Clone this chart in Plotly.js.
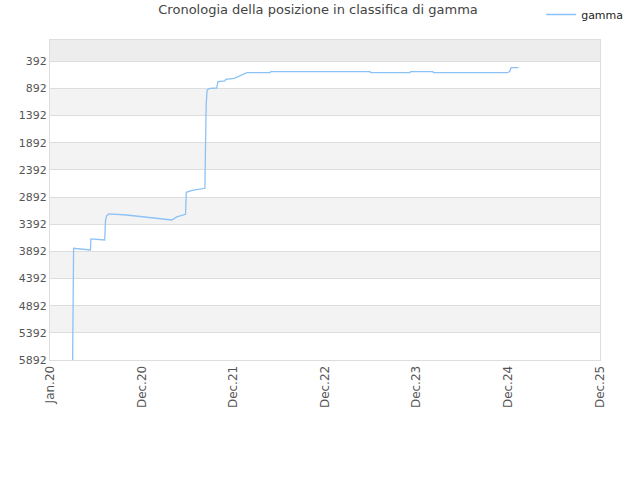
<!DOCTYPE html>
<html>
<head>
<meta charset="utf-8">
<script src="https://cdn.plot.ly/plotly-3.0.1.min.js"></script>
<style>
  html, body { margin: 0; padding: 0; background: #fff; }
  #chart { width: 640px; height: 480px; }
</style>
</head>
<body>
<div id="chart"></div>
<script>
// dates and ranks
var dates = [
  '2020-03-31', '2020-04-02', '2020-04-04', '2020-06-10', '2020-06-12',
  '2020-08-06', '2020-08-09', '2020-08-14', '2020-08-23', '2020-11-01',
  '2020-12-11', '2021-02-02', '2021-03-14', '2021-04-30', '2021-05-20',
  '2021-06-24', '2021-06-27', '2021-07-20', '2021-09-09', '2021-09-11',
  '2021-09-14', '2021-09-18', '2021-09-29', '2021-10-26', '2021-10-31',
  '2021-11-28', '2021-12-01', '2022-01-04', '2022-01-27', '2022-02-23',
  '2022-05-27', '2022-05-29', '2023-06-29', '2023-07-01', '2023-12-05',
  '2023-12-07', '2024-03-05', '2024-03-07', '2024-12-27', '2025-01-05',
  '2025-01-11', '2025-02-09'
];
var ranks = [
  5950, 4900, 3835, 3866, 3663,
  3682, 3327, 3235, 3203, 3222,
  3240, 3264, 3282, 3314, 3258,
  3209, 2804, 2770, 2730, 1950,
  1197, 920, 889, 884, 768,
  755, 723, 705, 657, 602,
  602, 583, 583, 602, 602,
  583, 583, 602, 602, 580,
  510, 510
];

var seriesName = 'gamma';
var yTicks = [392, 892, 1392, 1892, 2392, 2892, 3392, 3892, 4392, 4892, 5392, 5892];
var xTickVals = ['2020-01-01', '2020-12-31', '2021-12-31', '2022-12-31', '2023-12-31', '2024-12-31', '2025-12-31'];
var xTickText = ['Jan.20', 'Dec.20', 'Dec.21', 'Dec.22', 'Dec.23', 'Dec.24', 'Dec.25'];

var shapes = [{
  type: 'rect', xref: 'paper', yref: 'y', x0: 0, x1: 1, y0: 0, y1: yTicks[0],
  fillcolor: '#ededed', line: { width: 0 }, layer: 'below'
}];
for (var i = 1; i < yTicks.length - 1; i += 2) {
  shapes.push({
    type: 'rect', xref: 'paper', yref: 'y', x0: 0, x1: 1,
    y0: yTicks[i], y1: yTicks[i + 1],
    fillcolor: '#f3f3f3', line: { width: 0 }, layer: 'below'
  });
}

var trace = {
  x: dates,
  y: ranks,
  name: seriesName,
  type: 'scatter',
  mode: 'lines',
  line: { color: '#8cc2f5', width: 1.3 },
  hovertemplate: '%{x}: %{y}<extra></extra>'
};

var layout = {
  width: 640,
  height: 480,
  margin: { l: 50, r: 40, t: 40, b: 120, pad: 0 },
  font: { family: 'DejaVu Sans, sans-serif', color: '#555', size: 11 },
  paper_bgcolor: '#fff',
  plot_bgcolor: '#fff',
  title: {
    text: 'Cronologia della posizione in classifica di gamma',
    font: { size: 13, color: '#444' },
    x: 0.497, xanchor: 'center', y: 0.99, yanchor: 'top'
  },
  showlegend: true,
  legend: {
    x: 0.893, xanchor: 'left', y: 1.005, yref: 'container', yanchor: 'top',
    font: { size: 11, color: '#222' },
    bgcolor: 'rgba(0,0,0,0)'
  },
  shapes: shapes,
  xaxis: {
    type: 'date',
    range: [xTickVals[0], xTickVals[xTickVals.length - 1]],
    tickmode: 'array',
    tickvals: xTickVals,
    ticktext: xTickText,
    tickangle: -90,
    showgrid: false,
    zeroline: false,
    showline: true,
    mirror: true,
    linecolor: '#dddddd',
    linewidth: 1,
    ticks: '',
    tickfont: { size: 12, color: '#555' }
  },
  yaxis: {
    range: [yTicks[yTicks.length - 1], 0],
    tickmode: 'array',
    tickvals: yTicks,
    ticktext: yTicks.map(String),
    showgrid: true,
    gridcolor: '#dddddd',
    zeroline: false,
    showline: true,
    mirror: true,
    linecolor: '#dddddd',
    linewidth: 1,
    ticks: '',
    ticksuffix: '  ',
    tickfont: { size: 11, color: '#555' }
  }
};

Plotly.newPlot('chart', [trace], layout, { displayModeBar: false, staticPlot: true });
</script>
</body>
</html>
